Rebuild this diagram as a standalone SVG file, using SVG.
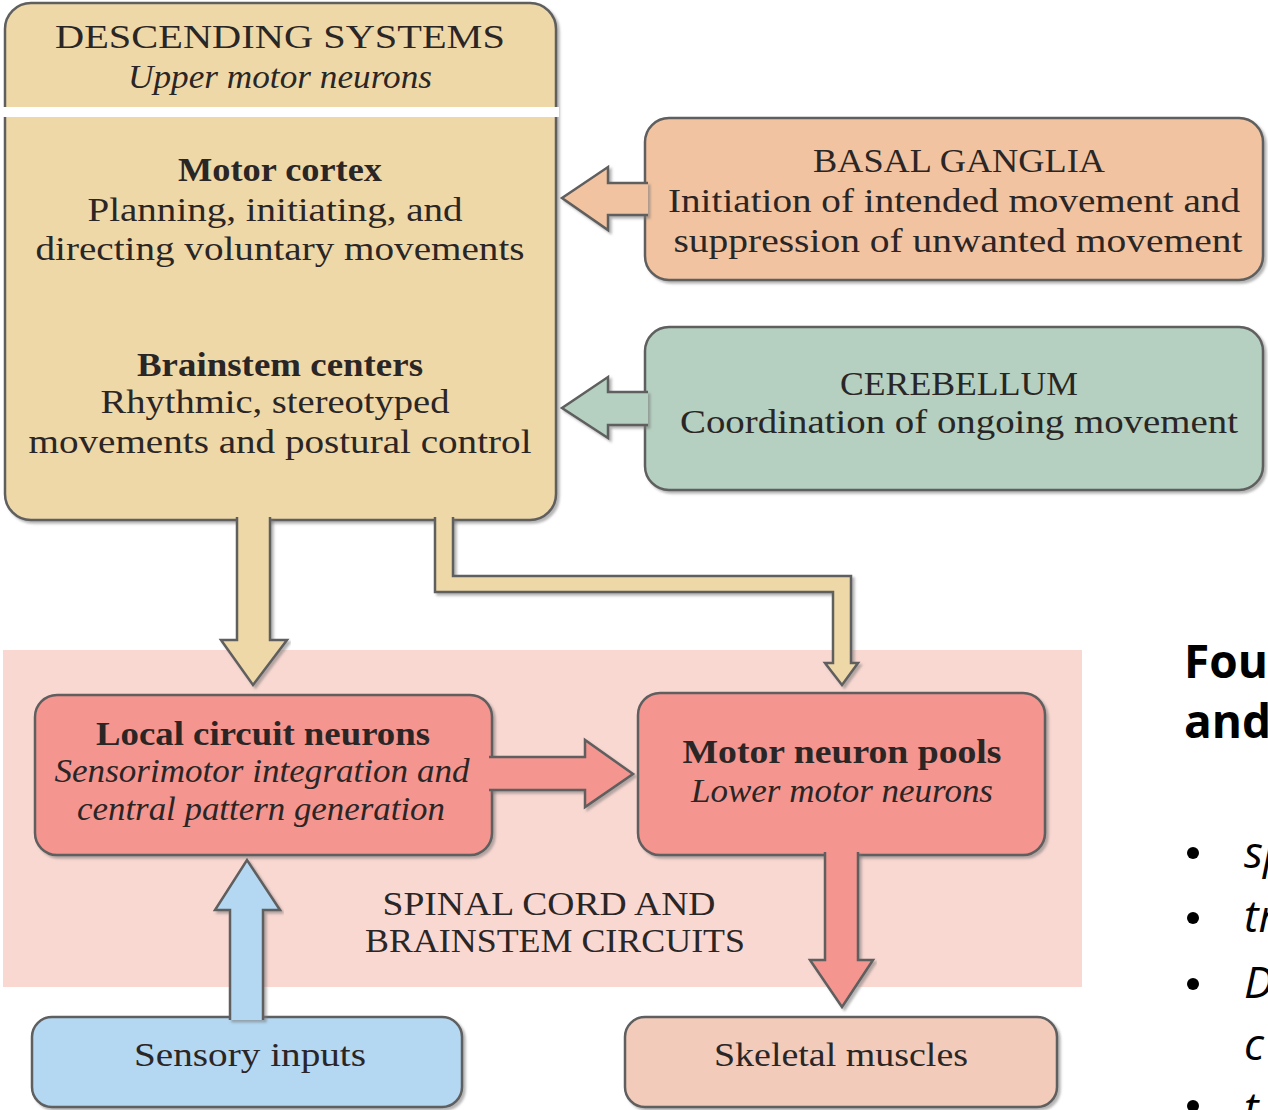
<svg xmlns="http://www.w3.org/2000/svg" width="1268" height="1110" viewBox="0 0 1268 1110">
<defs>
<filter id="sh" x="-5%" y="-5%" width="110%" height="115%">
<feDropShadow dx="2.5" dy="2.5" stdDeviation="1" flood-color="#777" flood-opacity="0.55"/>
</filter>
</defs>
<style>
.box{stroke:#5e5e5e;stroke-width:2.5;filter:url(#sh)}
.arr{stroke:#5e5e5e;stroke-width:2.5;stroke-linejoin:miter;filter:url(#sh)}
.t{font-family:"Liberation Serif","DejaVu Serif",serif;font-size:33px;fill:#2b2626;text-anchor:middle}
.b{font-weight:bold}
.i{font-style:italic}
.r{font-family:"Open Sans","Liberation Sans",sans-serif;fill:#000}
</style>
<rect x="0" y="0" width="1268" height="1110" fill="#ffffff"/>
<rect id="spinal-region" x="3" y="650" width="1079" height="337" fill="#fad8d2"/>

<g id="descending">
<rect class="box" x="5" y="3" width="551" height="517" rx="26" fill="#efd8a8"/>
<rect x="0" y="107" width="559" height="10" fill="#ffffff"/>
<text class="t" x="280" y="48" font-size="37" textLength="450" lengthAdjust="spacingAndGlyphs">DESCENDING SYSTEMS</text>
<text class="t i" x="280" y="88" font-size="32" textLength="304" lengthAdjust="spacingAndGlyphs">Upper motor neurons</text>
<text class="t b" x="280" y="181" textLength="204" lengthAdjust="spacingAndGlyphs">Motor cortex</text>
<text class="t" x="275" y="221" textLength="375" lengthAdjust="spacingAndGlyphs">Planning, initiating, and</text>
<text class="t" x="280" y="260" textLength="489" lengthAdjust="spacingAndGlyphs">directing voluntary movements</text>
<text class="t b" x="280" y="376" textLength="286" lengthAdjust="spacingAndGlyphs">Brainstem centers</text>
<text class="t" x="275" y="413" textLength="349" lengthAdjust="spacingAndGlyphs">Rhythmic, stereotyped</text>
<text class="t" x="280" y="453" textLength="503" lengthAdjust="spacingAndGlyphs">movements and postural control</text>
</g>

<g id="basal-ganglia">
<rect class="box" x="645" y="118" width="618" height="162" rx="24" fill="#f2c3a0"/>
<text class="t" x="959" y="172" textLength="292" lengthAdjust="spacingAndGlyphs">BASAL GANGLIA</text>
<text class="t" x="954" y="212" textLength="572" lengthAdjust="spacingAndGlyphs">Initiation of intended movement and</text>
<text class="t" x="958" y="252" textLength="569" lengthAdjust="spacingAndGlyphs">suppression of unwanted movement</text>
</g>

<g id="cerebellum">
<rect class="box" x="645" y="327" width="618" height="163" rx="24" fill="#b5d0c1"/>
<text class="t" x="959" y="395" textLength="238" lengthAdjust="spacingAndGlyphs">CEREBELLUM</text>
<text class="t" x="959" y="433" textLength="558" lengthAdjust="spacingAndGlyphs">Coordination of ongoing movement</text>
</g>

<g id="local-circuit">
<rect class="box" x="35" y="695" width="457" height="160" rx="22" fill="#f4958f"/>
<text class="t b" x="263" y="745" textLength="334" lengthAdjust="spacingAndGlyphs">Local circuit neurons</text>
<text class="t i" x="262" y="782" textLength="415" lengthAdjust="spacingAndGlyphs">Sensorimotor integration and</text>
<text class="t i" x="261" y="820" textLength="368" lengthAdjust="spacingAndGlyphs">central pattern generation</text>
</g>

<g id="motor-pools">
<rect class="box" x="638" y="693" width="407" height="162" rx="22" fill="#f4958f"/>
<text class="t b" x="842" y="763" textLength="319" lengthAdjust="spacingAndGlyphs">Motor neuron pools</text>
<text class="t i" x="842" y="802" textLength="302" lengthAdjust="spacingAndGlyphs">Lower motor neurons</text>
</g>

<g id="spinal-label">
<text class="t" x="549" y="915" textLength="333" lengthAdjust="spacingAndGlyphs">SPINAL CORD AND</text>
<text class="t" x="555" y="952" textLength="380" lengthAdjust="spacingAndGlyphs">BRAINSTEM CIRCUITS</text>
</g>

<g id="sensory">
<rect class="box" x="32" y="1017" width="430" height="90" rx="20" fill="#b4d7f2"/>
<text class="t" x="250" y="1066" textLength="232" lengthAdjust="spacingAndGlyphs">Sensory inputs</text>
</g>

<g id="skeletal">
<rect class="box" x="625" y="1017" width="432" height="90" rx="20" fill="#f2cbbb"/>
<text class="t" x="841" y="1066" textLength="254" lengthAdjust="spacingAndGlyphs">Skeletal muscles</text>
</g>

<g id="connectors">
<path class="arr" fill="#f2c3a0" d="M648,183 H608 V167 L562,198 L608,230 V215 H648"/>
<path class="arr" fill="#b5d0c1" d="M648,392 H608 V377 L562,408 L608,438 V425 H648"/>
<path class="arr" fill="#efd8a8" d="M237,517 V640 H221 L253,685 L287,640 H270 V517"/>
<path class="arr" fill="#efd8a8" d="M435,517 V592 H833 V663 H825 L842,685 L858,663 H851 V576 H453 V517"/>
<path class="arr" fill="#f4958f" d="M489,757 H585 V740 L633,774 L585,807 V790 H489"/>
<path class="arr" fill="#b4d7f2" d="M230,1020 V910 H215 L247,860 L280,910 H263 V1020"/>
<path class="arr" fill="#f4958f" d="M825,852 V960 H810 L842,1007 L873,960 H858 V852"/>
</g>

<g id="side-text">
<text class="r" x="1184" y="678" font-size="46" font-weight="bold">Fou</text>
<text class="r" x="1184" y="738" font-size="46" font-weight="bold">and</text>
<circle cx="1193" cy="853" r="6"/>
<circle cx="1193" cy="918" r="6"/>
<circle cx="1193" cy="984" r="6"/>
<circle cx="1193" cy="1106" r="6"/>
<text class="r" x="1244" y="868" font-size="44" font-style="italic">sp</text>
<text class="r" x="1244" y="932" font-size="44" font-style="italic">tr</text>
<text class="r" x="1244" y="998" font-size="44" font-style="italic">D</text>
<text class="r" x="1244" y="1060" font-size="44" font-style="italic">c</text>
<text class="r" x="1244" y="1124" font-size="44" font-style="italic">t</text>
</g>
</svg>
